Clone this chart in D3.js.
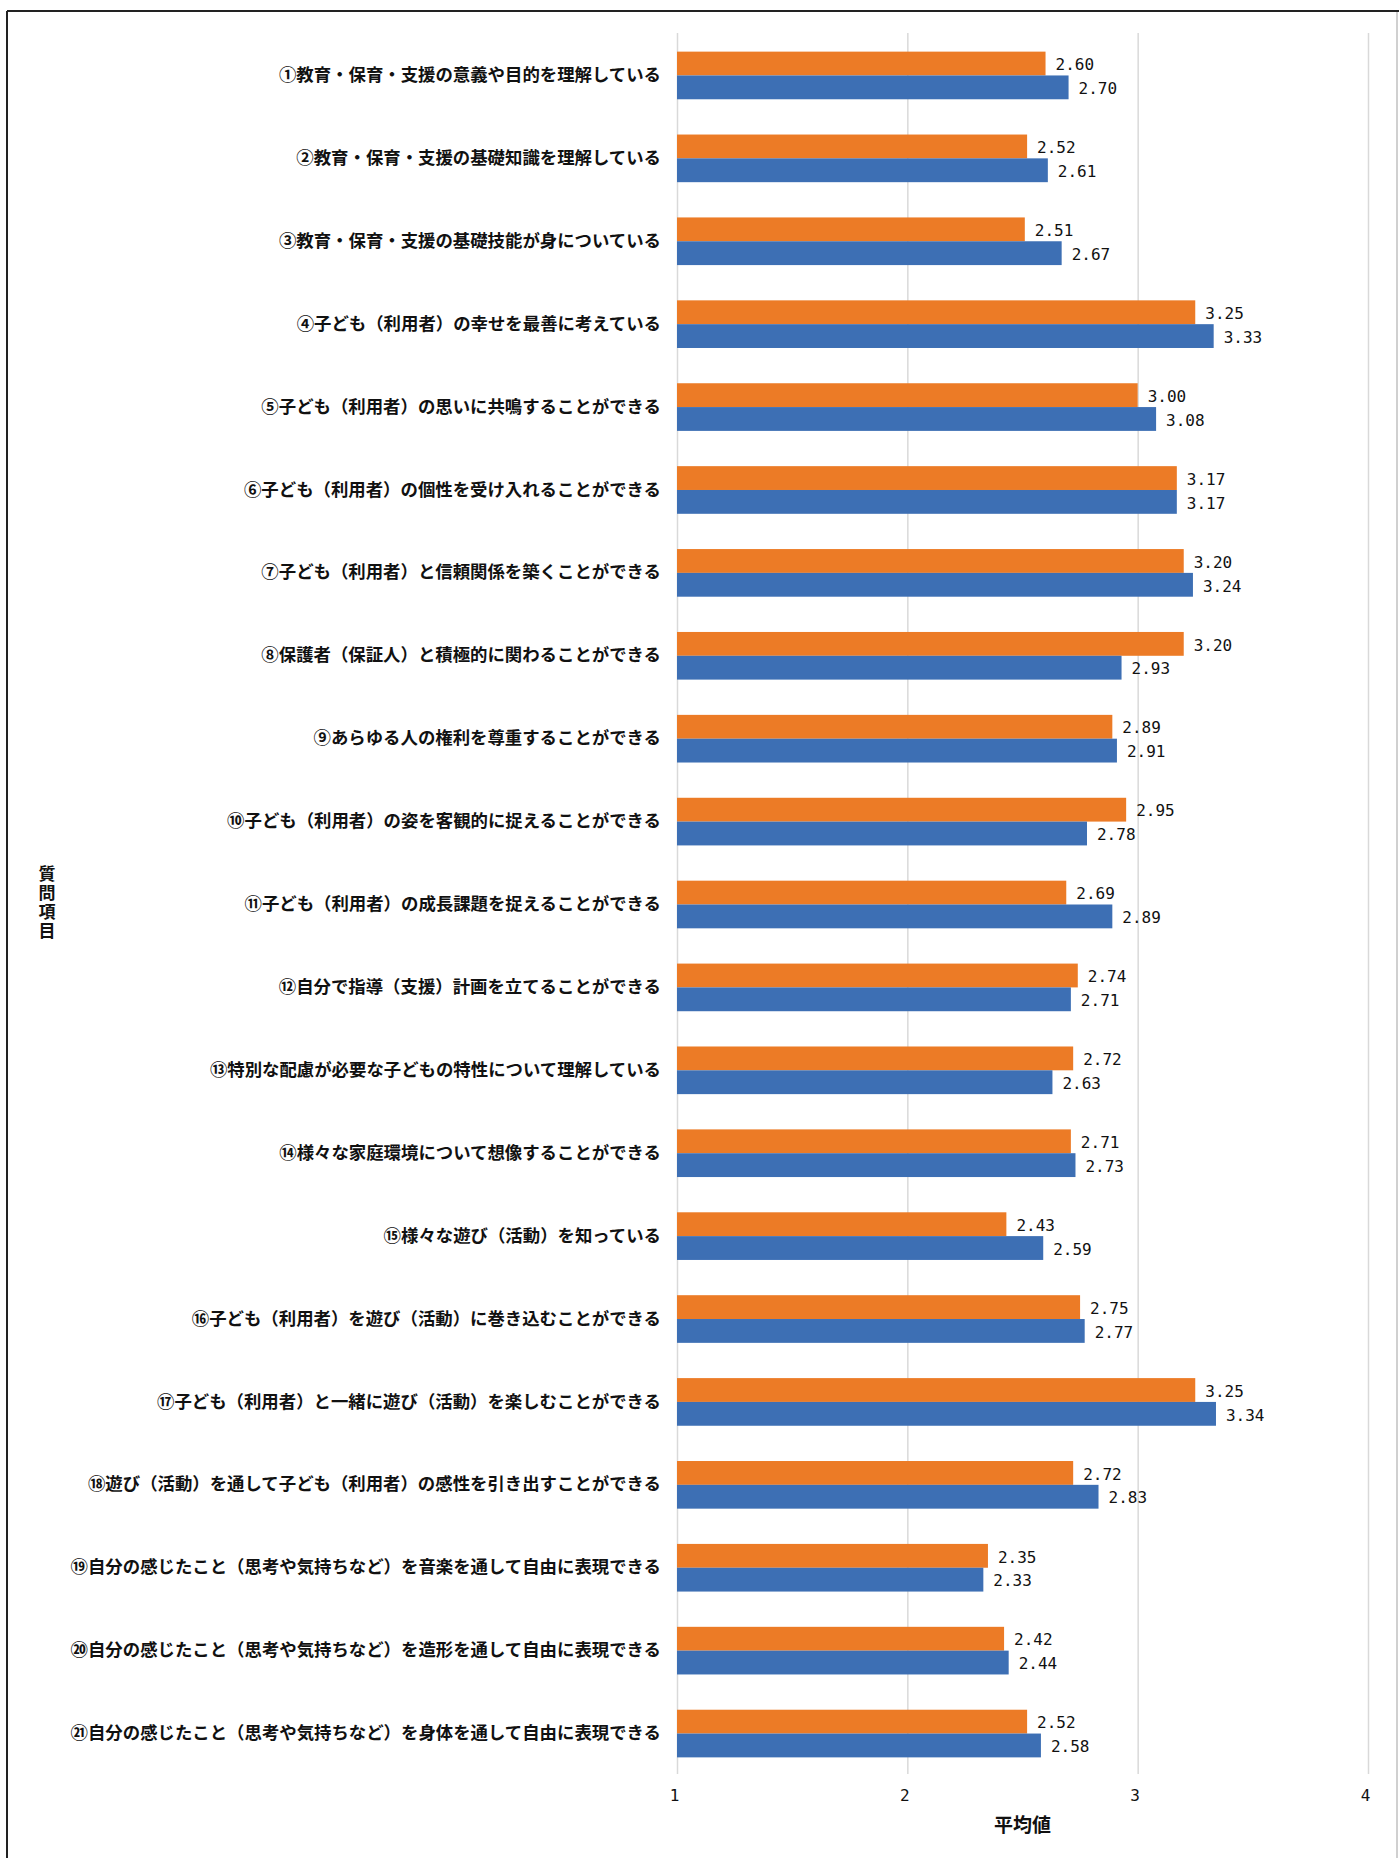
<!DOCTYPE html>
<html>
<head>
<meta charset="utf-8">
<script src="https://cdn.jsdelivr.net/npm/d3@7"></script>
<style>
  body { margin: 0; background: #fff; }
  svg { display: block; }
</style>
</head>
<body>
<div id="chart"></div>
<script>
// question items (y categories)
const categories = [
  '①教育・保育・支援の意義や目的を理解している',
  '②教育・保育・支援の基礎知識を理解している',
  '③教育・保育・支援の基礎技能が身についている',
  '④子ども（利用者）の幸せを最善に考えている',
  '⑤子ども（利用者）の思いに共鳴することができる',
  '⑥子ども（利用者）の個性を受け入れることができる',
  '⑦子ども（利用者）と信頼関係を築くことができる',
  '⑧保護者（保証人）と積極的に関わることができる',
  '⑨あらゆる人の権利を尊重することができる',
  '⑩子ども（利用者）の姿を客観的に捉えることができる',
  '⑪子ども（利用者）の成長課題を捉えることができる',
  '⑫自分で指導（支援）計画を立てることができる',
  '⑬特別な配慮が必要な子どもの特性について理解している',
  '⑭様々な家庭環境について想像することができる',
  '⑮様々な遊び（活動）を知っている',
  '⑯子ども（利用者）を遊び（活動）に巻き込むことができる',
  '⑰子ども（利用者）と一緒に遊び（活動）を楽しむことができる',
  '⑱遊び（活動）を通して子ども（利用者）の感性を引き出すことができる',
  '⑲自分の感じたこと（思考や気持ちなど）を音楽を通して自由に表現できる',
  '⑳自分の感じたこと（思考や気持ちなど）を造形を通して自由に表現できる',
  '㉑自分の感じたこと（思考や気持ちなど）を身体を通して自由に表現できる',
];

// orange series (upper bar in each pair)
const seriesA = [2.60, 2.52, 2.51, 3.25, 3.00, 3.17, 3.20, 3.20, 2.89, 2.95, 2.69,
  2.74, 2.72, 2.71, 2.43, 2.75, 3.25, 2.72, 2.35, 2.42, 2.52];
// blue series (lower bar in each pair)
const seriesB = [2.70, 2.61, 2.67, 3.33, 3.08, 3.17, 3.24, 2.93, 2.91, 2.78, 2.89,
  2.71, 2.63, 2.73, 2.59, 2.77, 3.34, 2.83, 2.33, 2.44, 2.58];

const xTicks = [1, 2, 3, 4];
const seriesKeys = ['A', 'B'];
const colors = { A: '#EC7B26', B: '#3D6FB4' };

const W = 1399, H = 1858;
const plot = { left: 677, right: 1368, top: 33, bottom: 1774 };

const svg = d3.select('#chart').append('svg')
  .attr('width', W).attr('height', H);

// frame
svg.append('line').attr('x1', 7).attr('x2', W).attr('y1', 11).attr('y2', 11)
  .attr('stroke', '#222').attr('stroke-width', 2);
svg.append('line').attr('x1', 7).attr('x2', 7).attr('y1', 11).attr('y2', H)
  .attr('stroke', '#222').attr('stroke-width', 2);
svg.append('line').attr('x1', 1397).attr('x2', 1397).attr('y1', 12).attr('y2', H)
  .attr('stroke', '#d0d0d0').attr('stroke-width', 2);

const x = d3.scaleLinear().domain([1, 4]).range([plot.left, plot.right]);
const y0 = d3.scaleBand().domain(categories).range([plot.top + 1, plot.bottom + 1]).padding(0);
const y1 = d3.scaleBand().domain(seriesKeys).range([0, y0.bandwidth()])
  .paddingInner(0).paddingOuter(0.74);

// gridlines + tick labels
const xAxis = svg.append('g')
  .attr('transform', `translate(0,${plot.bottom})`)
  .call(d3.axisBottom(x).tickValues(xTicks).tickFormat(d3.format('d'))
    .tickSizeInner(-(plot.bottom - plot.top)).tickSizeOuter(0));
xAxis.select('.domain').remove();
xAxis.selectAll('.tick line').attr('stroke', '#d9d9d9').attr('stroke-width', 1.5);
xAxis.selectAll('.tick text')
  .attr('y', 21).attr('dy', '0.38em').attr('dx', -3)
  .attr('fill', '#111')
  .style('font-family', '"DejaVu Sans Mono", monospace')
  .style('font-size', '16px');

// category labels
const yAxis = svg.append('g')
  .attr('transform', `translate(${plot.left},0)`)
  .call(d3.axisLeft(y0).tickSize(0).tickPadding(16));
yAxis.select('.domain').remove();
yAxis.selectAll('.tick text')
  .attr('fill', '#111')
  .style('font-family', '"Noto Sans CJK JP", sans-serif')
  .style('font-weight', 'bold')
  .style('font-size', '17.4px');

// bars
const rows = categories.map((c, i) => ({ cat: c, A: seriesA[i], B: seriesB[i] }));
const groups = svg.append('g').selectAll('g')
  .data(rows).enter().append('g')
  .attr('transform', d => `translate(0,${y0(d.cat)})`);

groups.selectAll('rect')
  .data(d => seriesKeys.map(k => ({ key: k, value: d[k] })))
  .enter().append('rect')
  .attr('x', x(1))
  .attr('y', d => y1(d.key))
  .attr('width', d => x(d.value) - x(1))
  .attr('height', y1.bandwidth())
  .attr('fill', d => colors[d.key]);

groups.selectAll('text')
  .data(d => seriesKeys.map(k => ({ key: k, value: d[k] })))
  .enter().append('text')
  .attr('x', d => x(d.value) + 10)
  .attr('y', d => y1(d.key) + y1.bandwidth() / 2)
  .attr('dy', '0.42em')
  .attr('fill', '#111')
  .style('font-family', '"DejaVu Sans Mono", monospace')
  .style('font-size', '16px')
  .text(d => d3.format('.2f')(d.value));

// axis titles
svg.append('text')
  .attr('x', (plot.left + plot.right) / 2)
  .attr('y', 1825)
  .attr('dy', '0.35em')
  .attr('text-anchor', 'middle')
  .attr('fill', '#111')
  .style('font-family', '"Noto Sans CJK JP", sans-serif')
  .style('font-weight', 'bold')
  .style('font-size', '19px')
  .text('平均値');

// vertical y title, stacked upright characters
svg.append('text')
  .attr('x', 47)
  .attr('y', (plot.top + plot.bottom) / 2)
  .attr('text-anchor', 'middle')
  .attr('fill', '#111')
  .style('writing-mode', 'vertical-rl')
  .style('text-orientation', 'upright')
  .style('letter-spacing', '2px')
  .style('font-family', '"Noto Sans CJK JP", sans-serif')
  .style('font-weight', 'bold')
  .style('font-size', '17px')
  .text('質問項目');
</script>
</body>
</html>
